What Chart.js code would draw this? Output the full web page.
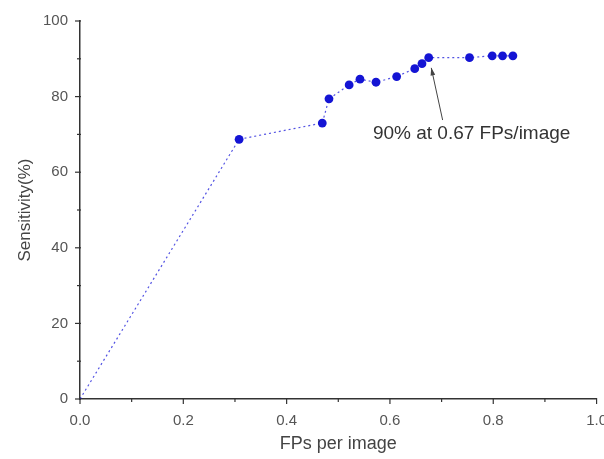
<!DOCTYPE html>
<html>
<head>
<meta charset="utf-8">
<script src="https://cdn.jsdelivr.net/npm/chart.js@4"></script>
<style>
  html, body { margin: 0; padding: 0; background: #fff; overflow: hidden; }
  #wrap { width: 620px; height: 459px; }
</style>
</head>
<body>
<div id="wrap"><canvas id="roc" width="620" height="459"></canvas></div>
<script>
// FPs per image vs sensitivity (%)
const fps = [0, 0.308, 0.469, 0.482, 0.521, 0.542, 0.573, 0.613, 0.648, 0.662, 0.675, 0.754, 0.798, 0.818, 0.838];
const sensitivity = [0, 68.7, 73.0, 79.4, 83.1, 84.6, 83.8, 85.3, 87.4, 88.7, 90.3, 90.3, 90.8, 90.8, 90.8];
const xTicks = [0, 0.2, 0.4, 0.6, 0.8, 1.0];
const yTicks = [0, 20, 40, 60, 80, 100];
const noteText = '90% at 0.67 FPs/image';

const axisColor = '#333';
const FONT = '"Liberation Sans", Arial, sans-serif';

// ticks drawn by hand so minor ticks can be shorter
const tickPlugin = {
  id: 'ticks',
  afterDraw(chart) {
    const { ctx, scales: { x, y } } = chart;
    ctx.save();
    ctx.strokeStyle = axisColor;
    ctx.lineWidth = 1.2;
    for (let i = 0; i <= 10; i++) {
      const px = x.getPixelForValue(i / 10);
      const len = i % 2 === 0 ? 5 : 3;
      ctx.beginPath();
      ctx.moveTo(px, y.bottom - 1);
      ctx.lineTo(px, y.bottom + len);
      ctx.stroke();
    }
    for (let i = 0; i <= 10; i++) {
      const py = y.getPixelForValue(i * 10);
      const len = i % 2 === 0 ? 5 : 3;
      ctx.beginPath();
      ctx.moveTo(x.left + 1, py);
      ctx.lineTo(x.left - len, py);
      ctx.stroke();
    }
    ctx.restore();
  }
};

// arrow + text annotation
const notePlugin = {
  id: 'note',
  afterDatasetsDraw(chart) {
    const { ctx, scales: { x, y } } = chart;
    const tipX = x.getPixelForValue(0.68), tipY = y.getPixelForValue(87.6);
    const tailX = x.getPixelForValue(0.702), tailY = y.getPixelForValue(73.8);
    ctx.save();
    ctx.strokeStyle = '#444';
    ctx.fillStyle = '#444';
    ctx.lineWidth = 1;
    ctx.beginPath();
    ctx.moveTo(tailX, tailY);
    ctx.lineTo(tipX, tipY);
    ctx.stroke();
    const ang = Math.atan2(tipY - tailY, tipX - tailX);
    ctx.beginPath();
    ctx.moveTo(tipX, tipY);
    ctx.lineTo(tipX - 8 * Math.cos(ang - 0.3), tipY - 8 * Math.sin(ang - 0.3));
    ctx.lineTo(tipX - 8 * Math.cos(ang + 0.3), tipY - 8 * Math.sin(ang + 0.3));
    ctx.closePath();
    ctx.fill();
    ctx.font = '19px ' + FONT;
    ctx.fillStyle = '#333';
    ctx.textBaseline = 'middle';
    ctx.fillText(noteText, x.getPixelForValue(0.567), y.getPixelForValue(70.2));
    ctx.restore();
  }
};

new Chart(document.getElementById('roc'), {
  type: 'scatter',
  data: {
    datasets: [{
      data: fps.map((v, i) => ({ x: v, y: sensitivity[i] })),
      showLine: true,
      borderColor: 'rgba(40,40,220,0.8)',
      borderWidth: 1.2,
      borderDash: [2, 3],
      backgroundColor: '#1414d4',
      pointBorderWidth: 0,
      pointRadius: ctx => ctx.dataIndex === 0 ? 1.5 : 4.4
    }]
  },
  options: {
    responsive: false,
    animation: false,
    layout: { padding: { top: 17, right: 23, left: 0, bottom: 0 } },
    plugins: { legend: { display: false }, tooltip: { enabled: false } },
    scales: {
      x: {
        type: 'linear',
        min: 0, max: 1,
        afterBuildTicks: s => { s.ticks = xTicks.map(v => ({ value: v })); },
        afterFit: s => { s.height = 60; },
        grid: { display: false, drawTicks: false },
        border: { display: true, color: axisColor, width: 1.5 },
        ticks: {
          padding: 13,
          color: '#555',
          font: { family: FONT, size: 15 },
          callback: v => v.toFixed(1)
        },
        title: {
          display: true,
          text: 'FPs per image',
          color: '#444',
          padding: { top: 4, bottom: 4 },
          font: { family: FONT, size: 18 }
        }
      },
      y: {
        min: 0, max: 100,
        afterBuildTicks: s => { s.ticks = yTicks.map(v => ({ value: v })); },
        afterFit: s => { s.width = 80; },
        grid: { display: false, drawTicks: false },
        border: { display: true, color: axisColor, width: 1.5 },
        ticks: {
          padding: 12,
          color: '#555',
          font: { family: FONT, size: 15 }
        },
        title: {
          display: true,
          text: 'Sensitivity(%)',
          color: '#444',
          padding: { top: 15, bottom: 0 },
          font: { family: FONT, size: 17 }
        }
      }
    }
  },
  plugins: [tickPlugin, notePlugin]
});
</script>
</body>
</html>
